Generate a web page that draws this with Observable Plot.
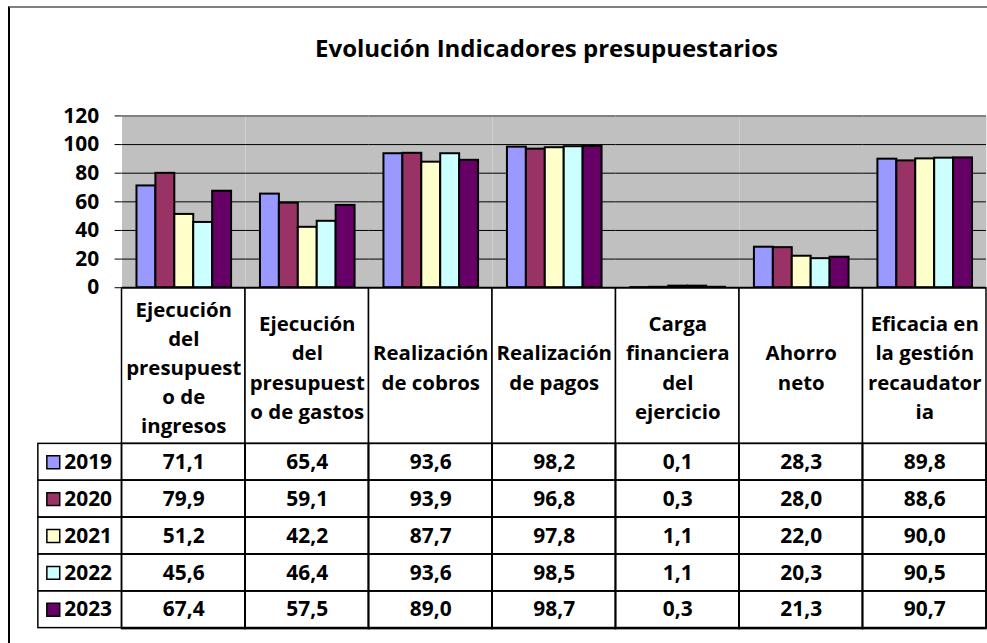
<!DOCTYPE html>
<html>
<head>
<meta charset="utf-8">
<script src="https://cdn.jsdelivr.net/npm/d3@7"></script>
<script src="https://cdn.jsdelivr.net/npm/@observablehq/plot@0.6"></script>
<style>
  html, body { margin: 0; padding: 0; background: #fff; }
  #wrap { position: relative; width: 987px; height: 643px; overflow: hidden; background: #fff; font-family: "Open Sans", sans-serif; }
  #frame { position: absolute; left: 8px; top: 6px; width: 1000px; height: 700px; border-left: 2px solid #000; border-top: 2px solid #808080; box-sizing: border-box; }
  #title { position: absolute; left: 0; width: 1093px; top: 35px; text-align: center; font-weight: bold; font-size: 24px; line-height: 25px; color: #000; white-space: nowrap; }
  #bars { position: absolute; left: 0; top: 100px; }
  #table { position: absolute; left: 0; top: 288px; }
</style>
</head>
<body>
<div id="wrap">
  <div id="frame"></div>
  <div id="title">Evolución Indicadores presupuestarios</div>
  <div id="bars"></div>
  <div id="table"></div>
</div>
<script>
const categories = [
  "Ejecución del presupuesto de ingresos",
  "Ejecución del presupuesto de gastos",
  "Realización de cobros",
  "Realización de pagos",
  "Carga financiera del ejercicio",
  "Ahorro neto",
  "Eficacia en la gestión recaudatoria"
];
const headerLabels = [
  "Ejecución\ndel\npresupuest\no de\ningresos",
  "Ejecución\ndel\npresupuest\no de gastos",
  "Realización\nde cobros",
  "Realización\nde pagos",
  "Carga\nfinanciera\ndel\nejercicio",
  "Ahorro\nneto",
  "Eficacia en\nla gestión\nrecaudator\nia"
];
const years = ["2019", "2020", "2021", "2022", "2023"];
const colors = ["#9999ff", "#993366", "#ffffcc", "#ccffff", "#660066"];
const v2019 = [71.1, 65.4, 93.6, 98.2, 0.1, 28.3, 89.8];
const v2020 = [79.9, 59.1, 93.9, 96.8, 0.3, 28.0, 88.6];
const v2021 = [51.2, 42.2, 87.7, 97.8, 1.1, 22.0, 90.0];
const v2022 = [45.6, 46.4, 93.6, 98.5, 1.1, 20.3, 90.5];
const v2023 = [67.4, 57.5, 89.0, 98.7, 0.3, 21.3, 90.7];
const yTicks = [0, 20, 40, 60, 80, 100, 120];

const series = [v2019, v2020, v2021, v2022, v2023];
const data = years.flatMap((yr, i) => categories.map((c, j) => ({cat: c, year: yr, value: series[i][j]})));
const fmt = v => v.toFixed(1).replace(".", ",");

const baseStyle = {fontFamily: "'Open Sans', sans-serif", fontWeight: "bold", fontSize: "21px", color: "#000", background: "transparent", overflow: "visible"};

const bars = Plot.plot({
  width: 991, height: 190,
  marginLeft: 120, marginRight: 0, marginTop: 15.5, marginBottom: 2,
  style: baseStyle,
  fx: {domain: categories, padding: 0, axis: null},
  x: {domain: years, paddingInner: 0, paddingOuter: 0.74, axis: null},
  y: {domain: [0, 120], axis: null},
  color: {domain: years, range: colors},
  marks: [
    Plot.frame({fill: "#c0c0c0", stroke: null}),
    Plot.ruleY(yTicks.filter(t => t > 0 && t < 120), {stroke: "#000", strokeWidth: 1}),
    Plot.ruleY([120], {stroke: "#808080", strokeWidth: 2}),
    Plot.barY(data, {fx: "cat", x: "year", y: "value", fill: "year", stroke: "#000", strokeWidth: 2}),
    Plot.ruleY([0], {stroke: "#000", strokeWidth: 2}),
    Plot.axisY({ticks: yTicks, tickSize: 7, tickPadding: 16, fontSize: 21, fontWeight: "bold", stroke: "#000", line: true, label: null})
  ]
});
document.getElementById("bars").appendChild(bars);

const table = Plot.plot({
  width: 991, height: 355,
  marginLeft: 120, marginRight: 0, marginTop: 155, marginBottom: 13,
  style: baseStyle,
  x: {domain: categories, padding: 0, axis: null},
  y: {domain: years, padding: 0, axis: null},
  color: {domain: years, range: colors},
  marks: [
    Plot.cell(categories, {x: d => d, insetTop: -155, fill: "#fff", stroke: "#000", strokeWidth: 1.5}),
    Plot.cell(years, {y: d => d, insetLeft: -82, fill: "none", stroke: "#000", strokeWidth: 1.5}),
    Plot.cell(data, {x: "cat", y: "year", fill: "none", stroke: "#000", strokeWidth: 1.5}),
    Plot.text(categories, {x: d => d, text: (d, i) => headerLabels[i], frameAnchor: "top", dy: -77.5, lineAnchor: "middle", lineHeight: 1.43, fontSize: 20.5, fontWeight: "bold", fill: "#000"}),
    Plot.text(data, {x: "cat", y: "year", text: d => fmt(d.value), fontSize: 21, fontWeight: "bold", fill: "#000"}),
    Plot.dot(years, {y: d => d, frameAnchor: "left", dx: -67, symbol: "square", r: 7.3, fill: d => d, stroke: "#000", strokeWidth: 1.5}),
    Plot.text(years, {y: d => d, frameAnchor: "left", dx: -56, textAnchor: "start", text: d => d, fontSize: 21, fontWeight: "bold", fill: "#000"})
  ]
});
document.getElementById("table").appendChild(table);
</script>
</body>
</html>
